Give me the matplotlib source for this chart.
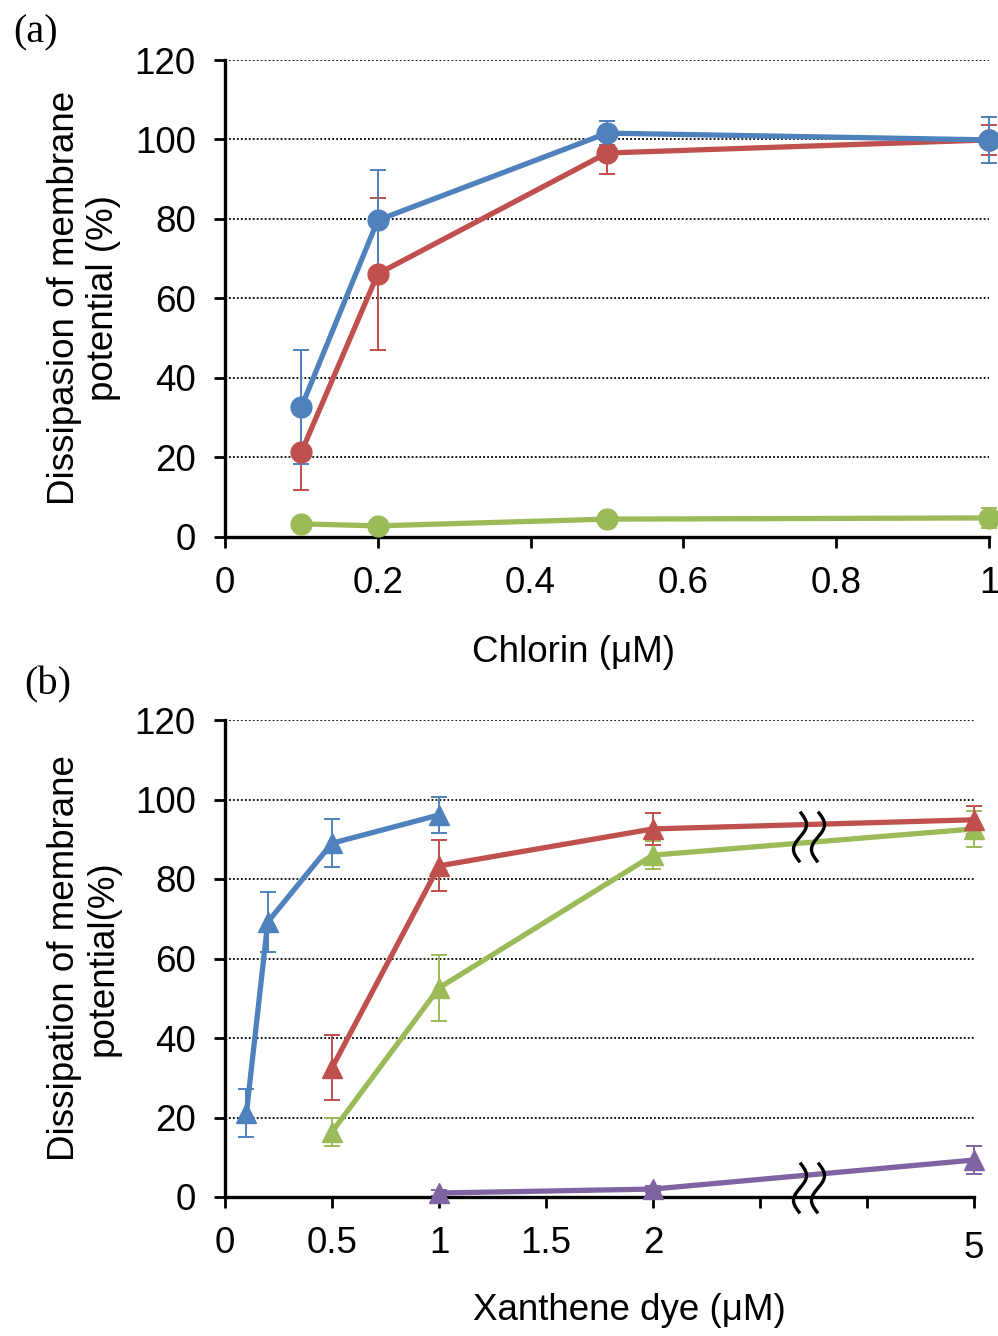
import numpy as np
import matplotlib
matplotlib.use("Agg")
import matplotlib.pyplot as plt
import matplotlib.transforms as mtransforms

plt.rcParams['font.family'] = ['Liberation Sans', 'DejaVu Sans']

# ---- Panel (a): chlorin dose response ----
chlorin_x = [0.1, 0.2, 0.5, 1.0]
a_blue = [32.7, 79.7, 101.6, 99.9]
a_blue_err = [14.3, 12.6, 3.0, 5.7]
a_red = [21.4, 66.2, 96.6, 99.9]
a_red_err = [9.6, 19.2, 5.3, 3.8]
a_green = [3.3, 2.8, 4.5, 4.8]
a_green_err = [1.0, 1.0, 1.0, 2.5]

# ---- Panel (b): xanthene dye dose response ----
b_blue_x = [0.1, 0.2, 0.5, 1.0]
b_blue = [21.1, 69.2, 89.0, 96.1]
b_blue_err = [6.0, 7.5, 6.0, 4.5]
b_red_x = [0.5, 1.0, 2.0, 5.0]
b_red = [32.5, 83.3, 92.6, 94.9]
b_red_err = [8.2, 6.4, 4.0, 3.5]
b_green_x = [0.5, 1.0, 2.0, 5.0]
b_green = [16.4, 52.6, 86.0, 92.6]
b_green_err = [3.5, 8.2, 3.5, 4.5]
b_purple_x = [1.0, 2.0, 5.0]
b_purple = [1.0, 2.0, 9.3]
b_purple_err = [0.8, 0.8, 3.5]

a_xticks = [0, 0.2, 0.4, 0.6, 0.8, 1.0]
a_xticklabels = ['0', '0.2', '0.4', '0.6', '0.8', '1']
b_xticks = [0, 0.5, 1.0, 1.5, 2.0, 2.5, 3.0, 3.5]
b_xticklabels = ['0', '0.5', '1', '1.5', '2', '', '', '5']
yticks = [0, 20, 40, 60, 80, 100, 120]

BLUE = '#4F81BD'
RED = '#C0504D'
GREEN = '#9BBB59'
PURPLE = '#8064A2'


def broken_x(xs):
    # values above 2 are squeezed onto the segment after the axis break
    out = []
    for v in xs:
        out.append(v if v <= 2 else 2 + 1.5 * (v - 2) / 3.0)
    return out


W, H = 998, 1336
fig = plt.figure(figsize=(W / 100, H / 100), dpi=100)

FS = 26.5


def style_axes(ax, xmax):
    for s in ['top', 'right']:
        ax.spines[s].set_visible(False)
    for s in ['left', 'bottom']:
        ax.spines[s].set_linewidth(2.4)
        ax.spines[s].set_color('black')
    ax.set_ylim(0, 120)
    ax.set_xlim(0, xmax)
    ax.set_yticks(yticks)
    ax.tick_params(axis='both', direction='out', length=8, width=2.0,
                   labelsize=FS, colors='black')
    ax.tick_params(axis='y', pad=13)
    ax.tick_params(axis='x', pad=13)
    for v in yticks[1:]:
        ax.axhline(v, color='black', lw=1.3, ls=(0, (1, 1.2)), zorder=1)


def series(ax, x, y, err, color, marker, ms):
    ax.errorbar(x, y, yerr=err, fmt='none', ecolor=color, elinewidth=1.4,
                capsize=6, capthick=1.4, zorder=2, clip_on=False)
    ax.plot(x, y, color=color, lw=3.8, marker=marker, ms=ms, zorder=3,
            clip_on=False, solid_capstyle='butt')


# Panel (a)
axa = fig.add_axes([225 / W, 1 - 537 / H, (989 - 225) / W, 477 / H])
style_axes(axa, 1.0)
axa.set_xticks(a_xticks)
axa.set_xticklabels(a_xticklabels)
series(axa, chlorin_x, a_green, a_green_err, GREEN, 'o', 15)
series(axa, chlorin_x, a_red, a_red_err, RED, 'o', 15)
series(axa, chlorin_x, a_blue, a_blue_err, BLUE, 'o', 15)

# Panel (b)
axb = fig.add_axes([225 / W, 1 - 1197 / H, (974 - 225) / W, 477 / H])
style_axes(axb, 3.5)
axb.set_xticks(b_xticks)
axb.set_xticklabels(b_xticklabels)
series(axb, broken_x(b_purple_x), b_purple, b_purple_err, PURPLE, '^', 14)
series(axb, broken_x(b_green_x), b_green, b_green_err, GREEN, '^', 14)
series(axb, broken_x(b_red_x), b_red, b_red_err, RED, '^', 14)
series(axb, broken_x(b_blue_x), b_blue, b_blue_err, BLUE, '^', 14)

# nudge the "5" label slightly lower, as it sits after the break
lab5 = axb.get_xticklabels()[-1]
lab5.set_transform(lab5.get_transform() +
                   mtransforms.ScaledTranslation(0, -5 / 100, fig.dpi_scale_trans))


# break marks (two S-shaped strokes) on the data lines and on the x axis
def break_marks(cx_px, cy_px, half_h=24, amp=6, gap=18):
    s = np.linspace(0, 1, 60)
    for dx in (-gap / 2, gap / 2):
        xs = cx_px + dx + amp * np.sin(2 * np.pi * s) - 2 * (s - 0.5)
        ys = cy_px - half_h + 2 * half_h * s
        fig.add_artist(plt.Line2D(xs / W, 1 - ys / H, color='black', lw=2.4,
                                  transform=fig.transFigure, zorder=10))


break_marks(809, 837)
break_marks(809, 1188)

# axis labels
fig.text(574 / W, 1 - 653 / H, 'Chlorin (μM)', fontsize=FS, ha='center', va='center')
fig.text(629 / W, 1 - 1310 / H, 'Xanthene dye (μM)', fontsize=FS, ha='center', va='center')
fig.text(84 / W, 1 - 298 / H, 'Dissipasion of membrane\npotential (%)', fontsize=FS,
         ha='center', va='center', rotation=90, linespacing=1.12)
fig.text(84 / W, 1 - 958 / H, 'Dissipation of membrane\npotential(%)', fontsize=FS,
         ha='center', va='center', rotation=90, linespacing=1.12)

# panel letters
fig.text(36 / W, 1 - 33 / H, '(a)', fontsize=29, ha='center', va='center',
         family=['Liberation Serif', 'DejaVu Serif'])
fig.text(48 / W, 1 - 685 / H, '(b)', fontsize=29, ha='center', va='center',
         family=['Liberation Serif', 'DejaVu Serif'])

fig.savefig('out.png', dpi=100, facecolor='white')
